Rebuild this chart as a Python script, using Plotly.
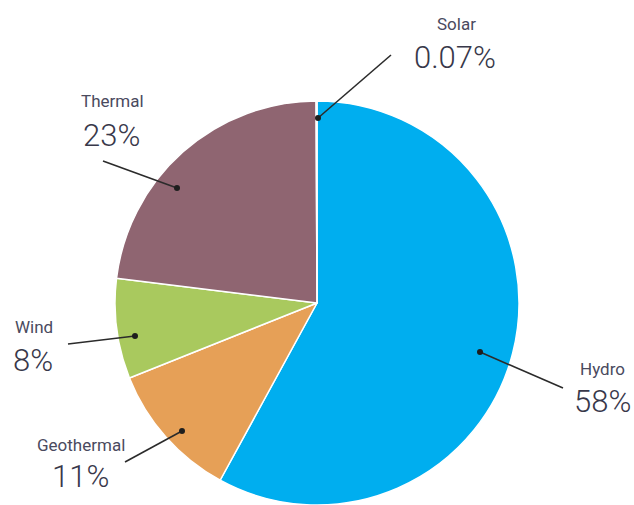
import plotly.graph_objects as go

# ---- data ----
sources = ["Hydro", "Geothermal", "Wind", "Thermal", "Solar"]
shares = [58, 11, 8, 23, 0.07]
share_labels = ["58%", "11%", "8%", "23%", "0.07%"]

# ---- styles ----
slice_colors = ["#00AEEF", "#E6A057", "#A9C95E", "#8F6571", "#F2C12E"]
W, H = 634, 505
cx, cy, r = 317, 303, 202

# label layout (pixels): name centre, percent centre, leader line start, leader dot
label_layout = {
    "Solar":      dict(name=(456, 24),  pct=(455, 58),  start=(391, 55),  dot=(318, 118)),
    "Thermal":    dict(name=(112, 101), pct=(111, 135), start=(103, 161), dot=(177, 188)),
    "Wind":       dict(name=(34, 327),  pct=(33, 360),  start=(68, 344),  dot=(135, 336)),
    "Geothermal": dict(name=(81, 445),  pct=(80, 476),  start=(125, 462), dot=(182, 431)),
    "Hydro":      dict(name=(602, 369), pct=(602, 401), start=(563, 388), dot=(480, 352)),
}

def px(x):
    return x / W

def py(y):
    return 1 - y / H

fig = go.Figure(go.Pie(
    labels=sources,
    values=shares,
    sort=False,
    direction="clockwise",
    rotation=0,
    marker=dict(colors=slice_colors, line=dict(color="white", width=1.5)),
    textinfo="none",
    hoverinfo="label+percent",
    showlegend=False,
    domain=dict(x=[(cx - r) / W, (cx + r) / W], y=[0, 2 * r / H]),
))

annotations = []
shapes = []
for src, pct in zip(sources, share_labels):
    L = label_layout[src]
    annotations.append(dict(
        x=px(L["name"][0]), y=py(L["name"][1]), xref="paper", yref="paper",
        text=src, showarrow=False, xanchor="center", yanchor="middle",
        font=dict(family="Roboto", size=17, color="#4a4a5e"),
    ))
    annotations.append(dict(
        x=px(L["pct"][0]), y=py(L["pct"][1]), xref="paper", yref="paper",
        text=pct, showarrow=False, xanchor="center", yanchor="middle",
        font=dict(family="Roboto", size=31, color="#38384a", weight=300),
    ))
    (x0, y0), (x1, y1) = L["start"], L["dot"]
    shapes.append(dict(type="line", xref="paper", yref="paper",
                       x0=px(x0), y0=py(y0), x1=px(x1), y1=py(y1),
                       line=dict(color="#2b2b2b", width=1.6)))
    shapes.append(dict(type="circle", xref="paper", yref="paper",
                       x0=px(x1 - 3), x1=px(x1 + 3), y0=py(y1 + 3), y1=py(y1 - 3),
                       fillcolor="#1e1e1e", line=dict(width=0)))

fig.update_layout(
    width=W, height=H,
    margin=dict(l=0, r=0, t=0, b=0),
    paper_bgcolor="white",
    plot_bgcolor="white",
    annotations=annotations,
    shapes=shapes,
)

fig.write_html("out.html")
